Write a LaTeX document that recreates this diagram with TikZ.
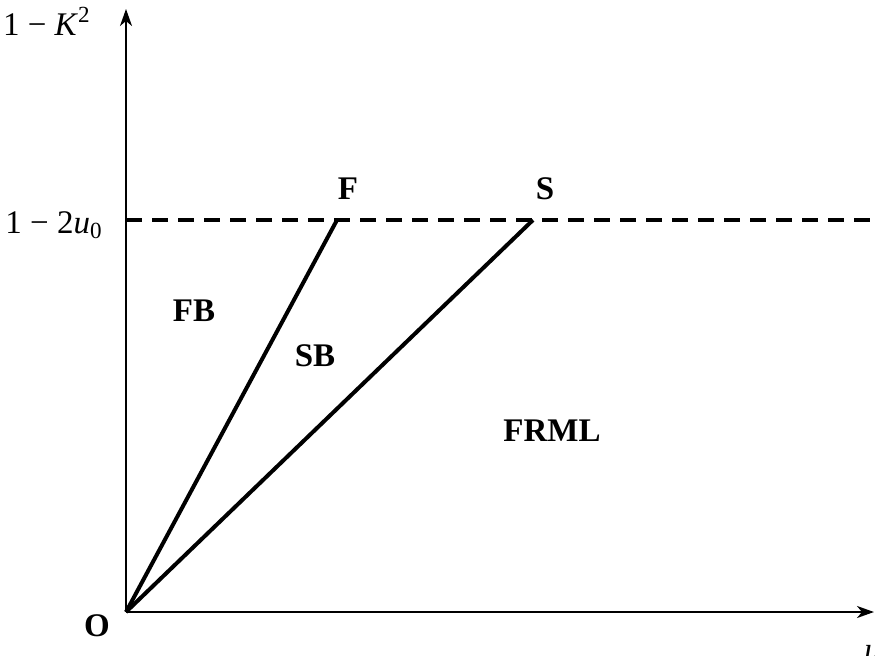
\documentclass[tikz,border=0pt]{standalone}
\usepackage{fontspec}
\setmainfont{Liberation Serif}
\usepackage{tikz}
\usetikzlibrary{arrows.meta}

\begin{document}
\begin{tikzpicture}[x=0.5pt,y=-0.5pt,
    axis/.style={line width=1pt,-{Stealth[length=8.5pt,width=6pt,inset=2.5pt]}},
    region/.style={line width=2pt},
    lbl/.style={inner sep=0pt,font=\fontsize{16.5}{20}\selectfont\bfseries},
    tick/.style={inner sep=0pt,font=\fontsize{16.5}{20}\selectfont}]
        \useasboundingbox (0,0) rectangle (875,655);
        \coordinate (O) at (126,612);
        \coordinate (ytip) at (126,9);
        \coordinate (xtip) at (874,612);
        \coordinate (a) at (126,220);
        \coordinate (b) at (875,220);
        \coordinate (F) at (337,220);
        \coordinate (S) at (533,220);
        \draw[axis] (O) -- (ytip);
        \draw[axis] (O) -- (xtip);
        \draw[line width=2pt,dash pattern=on 8pt off 5pt] (a) -- (b);
        \draw[region] (O) -- (F);
        \draw[region] (O) -- (S);
        \node[lbl] (o) at (97,626) {O};
        \node[lbl] (f) at (348,189) {F};
        \node[lbl] (s) at (545,189) {S};
        \node[lbl] (fb) at (194,311) {FB};
        \node[lbl] (sb) at (315,356) {SB};
        \node[lbl] (frml) at (552,431) {FRML};
        \node[tick,anchor=base east] (ylbl) at (91,35) {1 − \textit{K}\textsuperscript{2}};
        \node[tick,anchor=base east] (dlbl) at (103,233) {1 − 2\textit{u}\textsubscript{0}};
        \node[tick,anchor=north west] (xlbl) at (864,645) {\textit{u}};
    \end{tikzpicture}
\end{document}
